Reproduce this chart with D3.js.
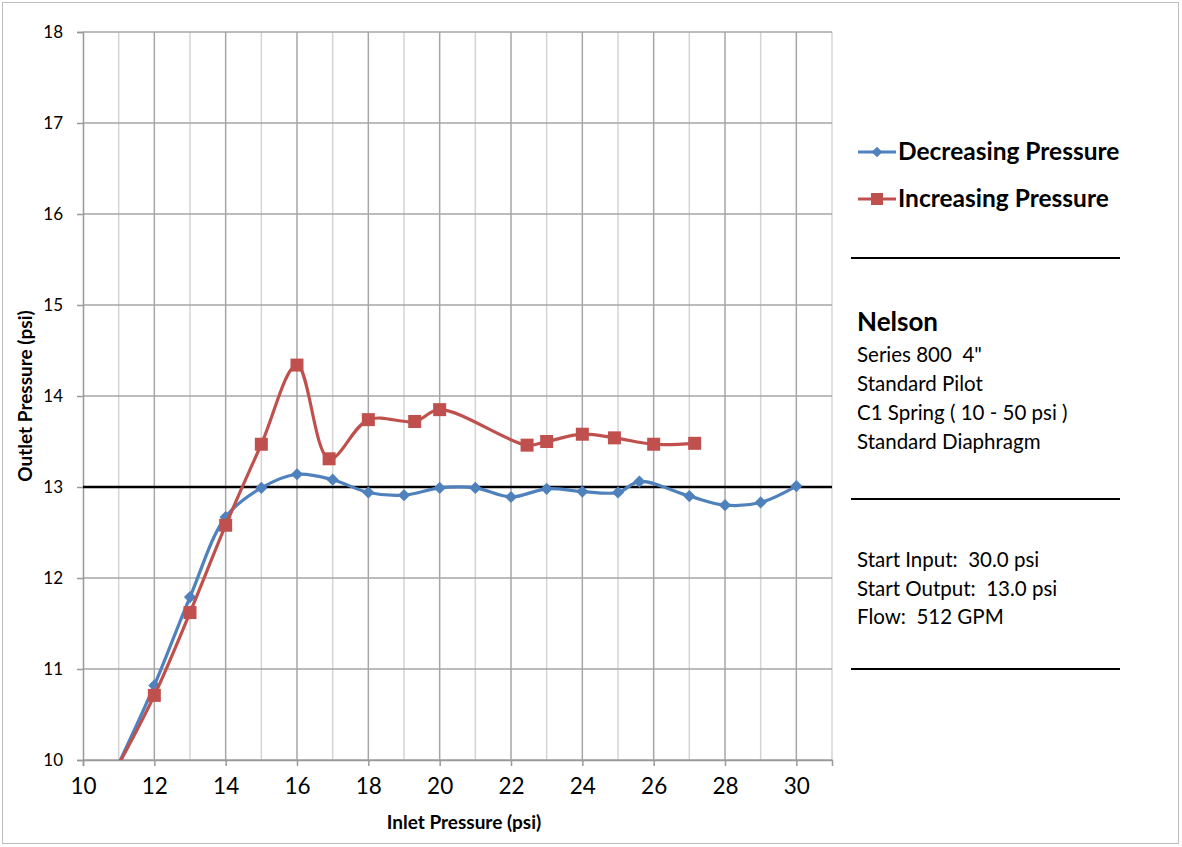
<!DOCTYPE html>
<html><head><meta charset="utf-8">
<script src="https://cdn.jsdelivr.net/npm/d3@7"></script>
<style>body{margin:0;background:#fff;} text{font-family:Lato,"Open Sans",sans-serif;}</style>
</head><body>
<svg id="c" width="1182" height="847"></svg>
<script>
const decX = [11, 12, 13, 14, 15, 16, 17, 18, 19, 20, 21, 22, 23, 24, 25, 25.6, 27, 28, 29, 30];
const decY = [9.96, 10.82, 11.79, 12.67, 12.99, 13.14, 13.08, 12.94, 12.91, 12.99, 12.99, 12.89, 12.98, 12.95, 12.94, 13.06, 12.90, 12.80, 12.83, 13.01];
const incX = [11, 12, 13, 14, 15, 16, 16.9, 18, 19.3, 20, 22.45, 23, 24, 24.9, 26, 27.15];
const incY = [9.95, 10.71, 11.62, 12.58, 13.47, 14.34, 13.31, 13.74, 13.72, 13.85, 13.46, 13.50, 13.58, 13.54, 13.47, 13.48];
const xTicks = [10, 12, 14, 16, 18, 20, 22, 24, 26, 28, 30];
const yTicks = [10, 11, 12, 13, 14, 15, 16, 17, 18];
const refLine = 13;
const seriesNames = ["Decreasing Pressure", "Increasing Pressure"];
const infoTitle = "Nelson";
const infoLines1 = ["Series 800  4\"", "Standard Pilot", "C1 Spring ( 10 - 50 psi )", "Standard Diaphragm"];
const infoLines2 = ["Start Input:  30.0 psi", "Start Output:  13.0 psi", "Flow:  512 GPM"];

const svg = d3.select("#c");
const blue = "#4F81BD", red = "#C0504D";
const L = 83, R = 832, T = 32, B = 760;
const x = d3.scaleLinear().domain([10, 31]).range([L, R]);
const y = d3.scaleLinear().domain([10, 18]).range([B, T]);

svg.append("rect").attr("x", 2.5).attr("y", 2.5).attr("width", 1176).attr("height", 841)
  .attr("fill", "#fff").attr("stroke", "#bfbfbf").attr("stroke-width", 1);

// grid
const g = svg.append("g");
d3.range(11, 32).forEach(v => {
  g.append("line").attr("x1", x(v)).attr("x2", x(v)).attr("y1", T).attr("y2", B)
    .attr("stroke", v % 2 === 0 ? "#a6a6a6" : "#d4d4d4").attr("stroke-width", 1.5);
});
yTicks.forEach(v => {
  g.append("line").attr("x1", L).attr("x2", R).attr("y1", y(v)).attr("y2", y(v))
    .attr("stroke", "#a6a6a6").attr("stroke-width", 1.5);
});

// axes
const xAxis = d3.axisBottom(x).tickValues(xTicks).tickSize(6).tickPadding(12);
const xg = svg.append("g").attr("transform", `translate(0,${B})`).call(xAxis);
xg.select(".domain").attr("stroke", "#999").attr("stroke-width", 1.5);
xg.selectAll(".tick line").attr("stroke", "#999").attr("stroke-width", 1.5);
xg.selectAll(".tick text").attr("font-size", 22.5).attr("fill", "#000").attr("font-family", "Lato");

const yAxis = d3.axisLeft(y).tickValues(yTicks).tickSize(6).tickPadding(14);
const yg = svg.append("g").attr("transform", `translate(${L},0)`).call(yAxis);
yg.select(".domain").attr("stroke", "#999").attr("stroke-width", 1.5);
yg.selectAll(".tick line").attr("stroke", "#999").attr("stroke-width", 1.5);
yg.selectAll(".tick text").attr("font-size", 17).attr("fill", "#000").attr("font-family", "Lato");

svg.append("text").attr("x", 464).attr("y", 829).attr("text-anchor", "middle")
  .attr("font-size", 19).attr("font-weight", "bold").text("Inlet Pressure (psi)");
svg.append("text").attr("transform", "translate(32,396) rotate(-90)").attr("text-anchor", "middle")
  .attr("font-size", 19).attr("font-weight", "bold").text("Outlet Pressure (psi)");

// clip
svg.append("clipPath").attr("id", "clip").append("rect")
  .attr("x", L).attr("y", T - 10).attr("width", R - L).attr("height", B - T + 10);

const plot = svg.append("g").attr("clip-path", "url(#clip)");
plot.append("line").attr("x1", L).attr("x2", R).attr("y1", y(refLine)).attr("y2", y(refLine))
  .attr("stroke", "#000").attr("stroke-width", 2.5);

const line = d3.line().x(d => x(d[0])).y(d => y(d[1])).curve(d3.curveCatmullRom.alpha(0.5));
const dec = decX.map((v, i) => [v, decY[i]]);
const inc = incX.map((v, i) => [v, incY[i]]);

plot.append("path").datum(dec).attr("d", line).attr("fill", "none").attr("stroke", blue).attr("stroke-width", 3.2);
plot.selectAll(".dm").data(dec.filter(d => d[1] >= 10)).enter().append("path")
  .attr("d", d3.symbol(d3.symbolDiamond2, 95)).attr("fill", blue)
  .attr("transform", d => `translate(${x(d[0])},${y(d[1])})`);

plot.append("path").datum(inc).attr("d", line).attr("fill", "none").attr("stroke", red).attr("stroke-width", 3.2);
plot.selectAll(".sm").data(inc.filter(d => d[1] >= 10)).enter().append("rect")
  .attr("x", d => x(d[0]) - 6.5).attr("y", d => y(d[1]) - 6.5).attr("width", 13).attr("height", 13).attr("fill", red);

// legend
const lg = svg.append("g");
[[blue, 152], [red, 199]].forEach(([c, yy], i) => {
  lg.append("line").attr("x1", 858).attr("x2", 896).attr("y1", yy).attr("y2", yy).attr("stroke", c).attr("stroke-width", 3.2);
  if (i === 0) lg.append("path").attr("d", d3.symbol(d3.symbolDiamond2, 70)).attr("fill", c).attr("transform", `translate(877,${yy})`);
  else lg.append("rect").attr("x", 871).attr("y", yy - 6).attr("width", 12).attr("height", 12).attr("fill", c);
  lg.append("text").attr("x", 898).attr("y", yy + 8).attr("font-size", 24.5).attr("font-weight", "bold").text(seriesNames[i]);
});

// separators
[258, 499, 669].forEach(yy => {
  svg.append("line").attr("x1", 851).attr("x2", 1120).attr("y1", yy).attr("y2", yy).attr("stroke", "#000").attr("stroke-width", 2);
});

svg.append("text").attr("x", 857).attr("y", 331).attr("font-size", 26).attr("font-weight", "bold").text(infoTitle);
infoLines1.forEach((t, i) => {
  svg.append("text").attr("x", 857).attr("y", 362 + i * 29).attr("font-size", 20.5).style("white-space", "pre").text(t);
});
infoLines2.forEach((t, i) => {
  svg.append("text").attr("x", 857).attr("y", 567 + i * 28.5).attr("font-size", 20.5).style("white-space", "pre").text(t);
});
</script>
</body></html>
